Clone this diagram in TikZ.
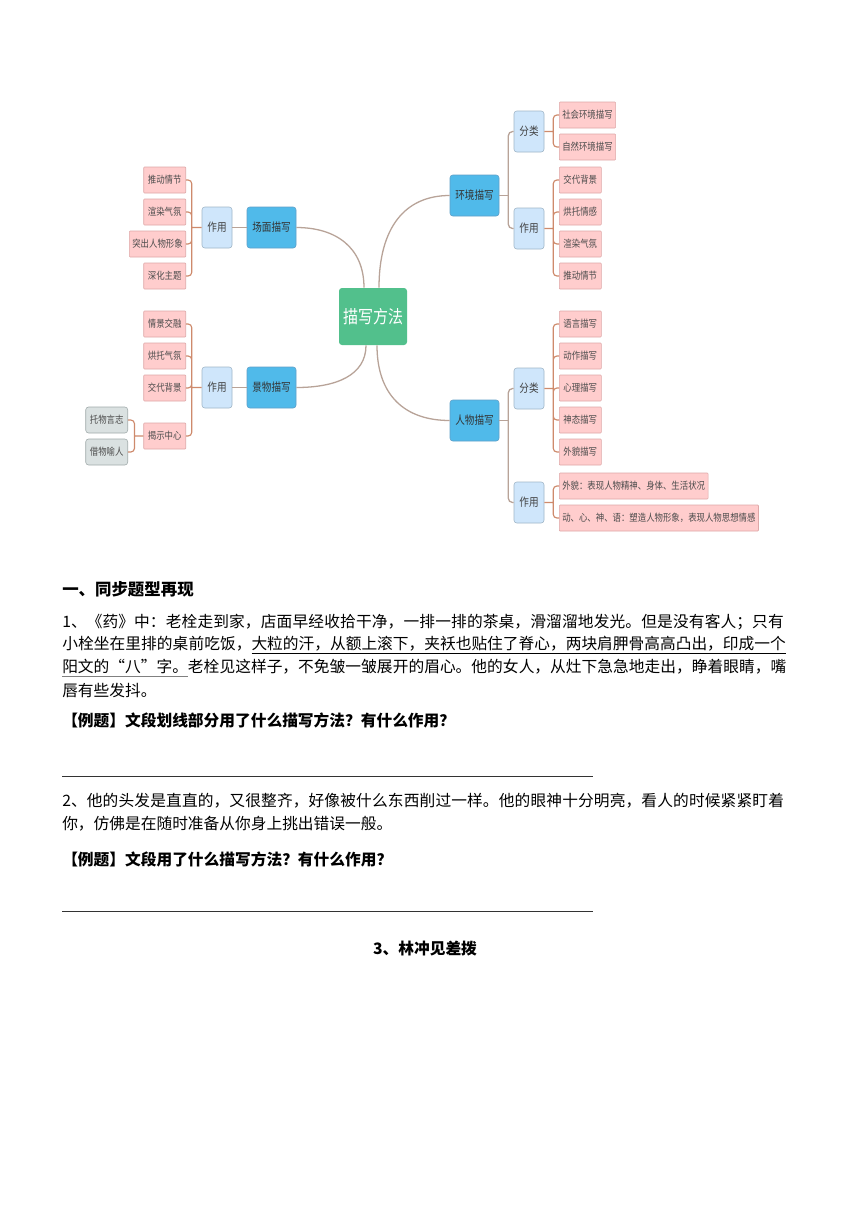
\documentclass[tikz,border=0pt]{standalone}
\usepackage{fontspec}
\setmainfont{Noto Sans CJK SC}
\newfontfamily\mapfont[FakeStretch=0.84]{Noto Sans CJK SC}
\usetikzlibrary{positioning,calc}
\XeTeXlinebreaklocale "zh"
\XeTeXlinebreakskip=0pt plus 1pt
\definecolor{hubgreen}{RGB}{82,192,140}
\definecolor{topicblue}{RGB}{80,186,234}
\definecolor{topicline}{RGB}{96,160,200}
\definecolor{kindblue}{RGB}{207,230,251}
\definecolor{kindline}{RGB}{160,182,200}
\definecolor{leafpink}{RGB}{255,205,205}
\definecolor{leafline}{RGB}{222,168,168}
\definecolor{greyfill}{RGB}{218,225,225}
\definecolor{greyline}{RGB}{160,170,170}
\definecolor{wirebrown}{RGB}{184,163,152}
\definecolor{wireorange}{RGB}{206,138,108}
\newcommand{\bodyfont}{\fontsize{11}{13}\selectfont}
\newsavebox{\ulkbox}
\newcommand{\ulk}[2][black]{\sbox{\ulkbox}{#2}\rlap{\color{#1}\rule[-2.6pt]{\wd\ulkbox}{0.5pt}}\usebox{\ulkbox}}
\newcommand{\fillline}[1]{\tolerance=9999\parfillskip=0pt\relax #1\par}
\tikzset{
hubbox/.style={fill=hubgreen,rounded corners=2.1pt,minimum width=47.6pt,minimum height=39.9pt,inner sep=0pt,text=white,font=\mapfont\fontsize{12.5}{14}\selectfont},
topicbox/.style={draw=topicline,fill=topicblue,rounded corners=2pt,minimum width=34.3pt,minimum height=28.7pt,inner sep=0pt,text=black!80,font=\mapfont\fontsize{8}{9}\selectfont},
kindbox/.style={draw=kindline,fill=kindblue,rounded corners=2pt,minimum width=21pt,minimum height=28.7pt,inner sep=0pt,text=black!75,font=\mapfont\fontsize{8}{9}\selectfont},
leafbox/.style={draw=leafline,fill=leafpink,rounded corners=0.6pt,minimum width=29.4pt,minimum height=18.2pt,inner xsep=2.1pt,inner ysep=0pt,text=black!70,font=\mapfont\fontsize{7}{8}\selectfont},
greyleaf/.style={leafbox,draw=greyline,fill=greyfill,rounded corners=2pt},
linkline/.style={draw=wirebrown,line width=0.9pt},
leafwire/.style={draw=wireorange,line width=0.8pt,rounded corners=2.5pt},
bodyline/.style={anchor=west,inner sep=0pt,text width=507.5pt,font=\bodyfont},
headline/.style={anchor=west,inner sep=0pt,font=\fontsize{11}{13}\selectfont\bfseries},
answerline/.style={draw=black!80,line width=0.7pt}
}

\begin{document}
\begin{tikzpicture}[x=0.7pt,y=-0.7pt]
\useasboundingbox (0,0) rectangle (860,1216);
\fill[white] (0,0) rectangle (860,1216);
% mind map
\node[hubbox] (hub) at (373,316.5) {描写方法};
\node[topicbox] (scene) at (271.5,227.5) {场面描写};
\node[kindbox] (sceneuse) at (217,227.5) {作用};
\node[leafbox,anchor=east] (s1) at (186,180) {推动情节};
\node[leafbox,anchor=east] (s2) at (186,212) {渲染气氛};
\node[leafbox,anchor=east] (s3) at (186,244) {突出人物形象};
\node[leafbox,anchor=east] (s4) at (186,276) {深化主题};
\node[topicbox] (view) at (271.5,387.5) {景物描写};
\node[kindbox] (viewuse) at (217,387.5) {作用};
\node[leafbox,anchor=east] (v1) at (186,324) {情景交融};
\node[leafbox,anchor=east] (v2) at (186,356) {烘托气氛};
\node[leafbox,anchor=east] (v3) at (186,388) {交代背景};
\node[leafbox,anchor=east] (v4) at (186,436) {揭示中心};
\node[greyleaf,anchor=east] (g1) at (128,420) {托物言志};
\node[greyleaf,anchor=east] (g2) at (128,452) {借物喻人};
\node[topicbox] (env) at (474.5,195.5) {环境描写};
\node[kindbox] (envcls) at (529,131.5) {分类};
\node[kindbox] (envuse) at (529,228.5) {作用};
\node[leafbox,anchor=west] (e1) at (559,115) {社会环境描写};
\node[leafbox,anchor=west] (e2) at (559,147) {自然环境描写};
\node[leafbox,anchor=west] (e3) at (559,180) {交代背景};
\node[leafbox,anchor=west] (e4) at (559,212) {烘托情感};
\node[leafbox,anchor=west] (e5) at (559,244) {渲染气氛};
\node[leafbox,anchor=west] (e6) at (559,276) {推动情节};
\node[topicbox] (char) at (474.5,420.5) {人物描写};
\node[kindbox] (charcls) at (529,388.5) {分类};
\node[kindbox] (charuse) at (529,502.5) {作用};
\node[leafbox,anchor=west] (c1) at (559,324) {语言描写};
\node[leafbox,anchor=west] (c2) at (559,356) {动作描写};
\node[leafbox,anchor=west] (c3) at (559,388) {心理描写};
\node[leafbox,anchor=west] (c4) at (559,420) {神态描写};
\node[leafbox,anchor=west] (c5) at (559,452) {外貌描写};
\node[leafbox,anchor=west] (c6) at (559,486) {外貌：表现人物精神、身体、生活状况};
\node[leafbox,anchor=west] (c7) at (559,518) {动、心、神、语：塑造人物形象，表现人物思想情感};
% branches from the hub
\draw[linkline] ([xshift=-6.3pt]hub.north) .. controls +(0,-40) and +(40,0) .. (scene.east);
\draw[linkline] ([xshift=4.2pt]hub.north) .. controls +(0,-60) and +(-45,0) .. (env.west);
\draw[linkline] ([xshift=-4.9pt]hub.south) .. controls +(0,30) and +(40,0) .. (view.east);
\draw[linkline] ([xshift=2.8pt]hub.south) .. controls +(0,50) and +(-45,0) .. (char.west);
% forks
\draw[linkline] (sceneuse.east) -- (scene.west);
\draw[linkline] (viewuse.east) -- (view.west);
\coordinate (envfork) at ($(env.east)+(9,0)$);
\coordinate (charfork) at ($(char.east)+(9,0)$);
\draw[linkline] (env.east) -- (envfork);
\draw[linkline,rounded corners=3pt] (envfork) |- (envcls.west) (envfork) |- (envuse.west);
\draw[linkline] (char.east) -- (charfork);
\draw[linkline,rounded corners=3pt] (charfork) |- (charcls.west) (charfork) |- (charuse.west);
\coordinate (sfork) at ($(sceneuse.west)+(-10,0)$);
\coordinate (vfork) at ($(viewuse.west)+(-10,0)$);
\coordinate (gfork) at ($(v4.west)+(-9,0)$);
\coordinate (eclsfork) at ($(envcls.east)+(9,0)$);
\coordinate (eusefork) at ($(envuse.east)+(9,0)$);
\coordinate (cclsfork) at ($(charcls.east)+(9,0)$);
\coordinate (cusefork) at ($(charuse.east)+(9,0)$);
\draw[leafwire] (sceneuse.west) -- (sfork) (sfork) |- (s1.east) (sfork) |- (s2.east) (sfork) |- (s3.east) (sfork) |- (s4.east);
\draw[leafwire] (viewuse.west) -- (vfork) (vfork) |- (v1.east) (vfork) |- (v2.east) (vfork) |- (v3.east) (vfork) |- (v4.east);
\draw[leafwire] (v4.west) -- (gfork) (gfork) |- (g1.east) (gfork) |- (g2.east);
\draw[leafwire] (envcls.east) -- (eclsfork) (eclsfork) |- (e1.west) (eclsfork) |- (e2.west);
\draw[leafwire] (envuse.east) -- (eusefork) (eusefork) |- (e3.west) (eusefork) |- (e4.west) (eusefork) |- (e5.west) (eusefork) |- (e6.west);
\draw[leafwire] (charcls.east) -- (cclsfork) (cclsfork) |- (c1.west) (cclsfork) |- (c2.west) (cclsfork) |- (c3.west) (cclsfork) |- (c4.west) (cclsfork) |- (c5.west);
\draw[leafwire] (charuse.east) -- (cusefork) (cusefork) |- (c6.west) (cusefork) |- (c7.west);
% exercise text
\node[headline,font=\fontsize{11.5}{13}\selectfont\bfseries] (h1) at (62,589) {一、同步题型再现};
\node[bodyline] (p1) at (62,622) {\fillline{1、《药》中：老栓走到家，店面早经收拾干净，一排一排的茶桌，滑溜溜地发光。但是没有客人；只有}};
\node[bodyline] (p2) at (62,645) {\fillline{小栓坐在里排的桌前吃饭，\ulk{大粒的汗，从额上滚下，夹袄也贴住了脊心，两块肩胛骨高高凸出，印成一个}}};
\node[bodyline] (p3) at (62,668) {\fillline{\ulk[gray]{阳文的“八”字。}老栓见这样子，不免皱一皱展开的眉心。他的女人，从灶下急急地走出，睁着眼睛，嘴}};
\node[bodyline] (p4) at (62,691) {唇有些发抖。};
\node[headline] (q1) at (62,720) {【例题】文段划线部分用了什么描写方法？有什么作用？};
\coordinate (r1a) at (62,776);
\coordinate (r1b) at (593,776);
\draw[answerline] (r1a) -- (r1b);
\node[bodyline] (p5) at (62,801) {\fillline{2、他的头发是直直的，又很整齐，好像被什么东西削过一样。他的眼神十分明亮，看人的时候紧紧盯着}};
\node[bodyline] (p6) at (62,824) {你，仿佛是在随时准备从你身上挑出错误一般。};
\node[headline] (q2) at (62,859) {【例题】文段用了什么描写方法？有什么作用？};
\coordinate (r2a) at (62,911);
\coordinate (r2b) at (593,911);
\draw[answerline] (r2a) -- (r2b);
\node[headline,anchor=center] (t3) at (425,949) {3、林冲见差拨};
\end{tikzpicture}
\end{document}
